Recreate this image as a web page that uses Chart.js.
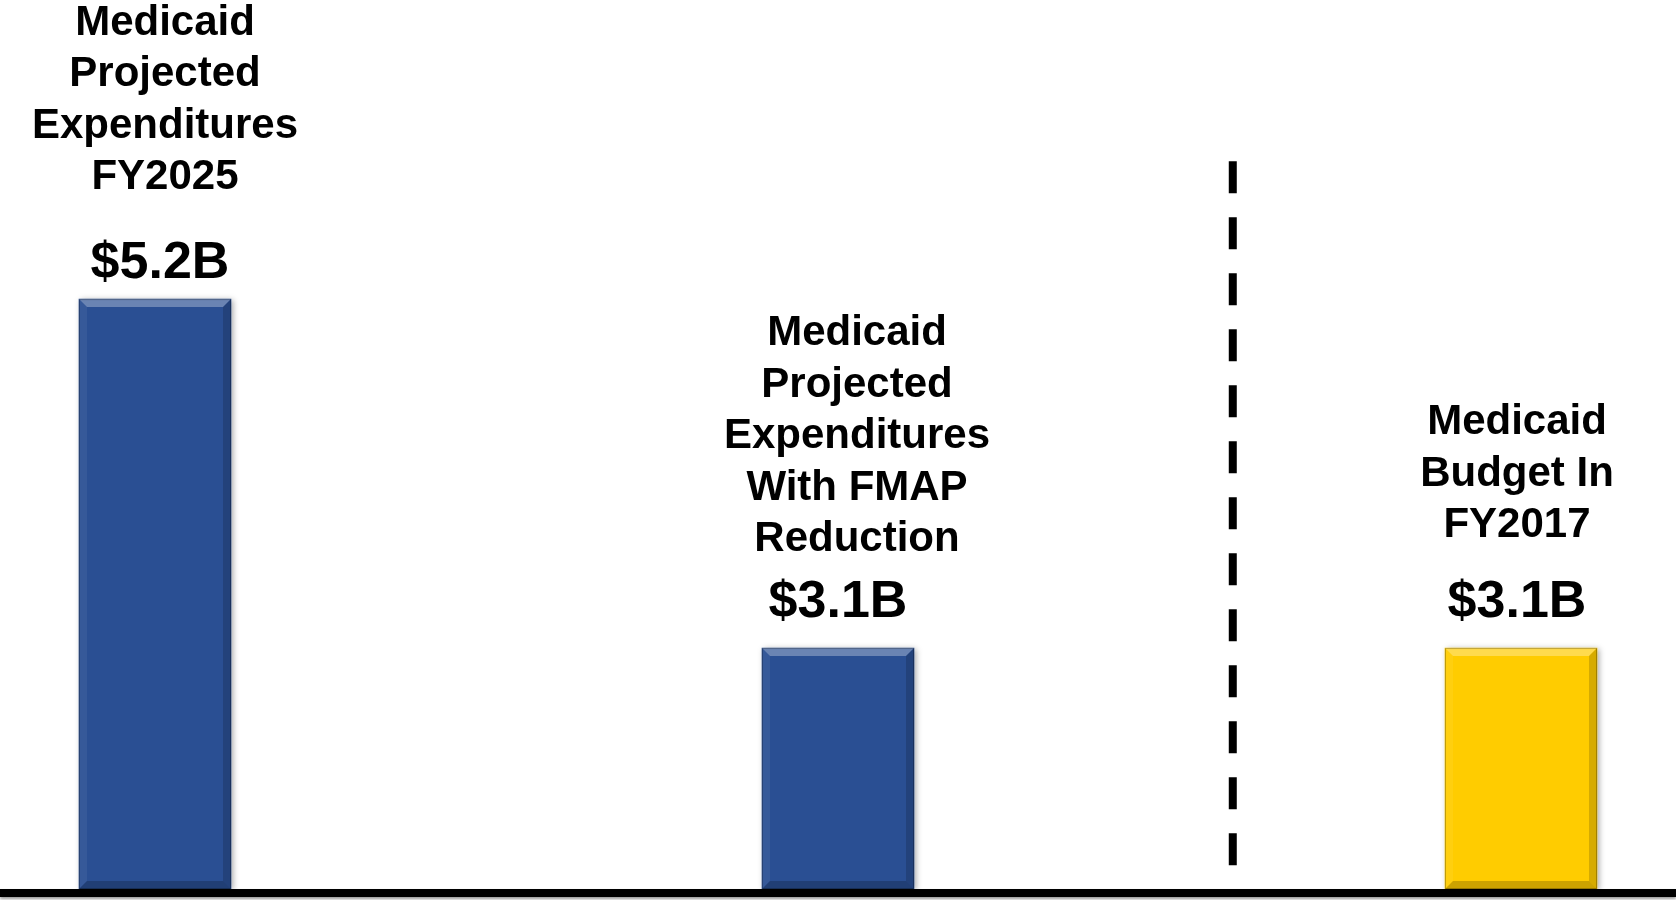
<!DOCTYPE html>
<html>
<head>
<meta charset="utf-8">
<script src="https://cdn.jsdelivr.net/npm/chart.js@4"></script>
<style>
  body { margin: 0; background: #fff; }
  #wrap { width: 1676px; height: 900px; }
</style>
</head>
<body>
<div id="wrap"><canvas id="myChart" width="1676" height="900"></canvas></div>
<script>
// dados
const categories = [
  ['Medicaid', 'Projected', 'Expenditures', 'FY2025'],
  ['Medicaid', 'Projected', 'Expenditures', 'With FMAP', 'Reduction'],
  ['Medicaid', 'Budget In', 'FY2017']
];
const values = [5.2, 3.1, 3.1];              // bilhoes de dolares
const valueLabels = ['$5.2B', '$3.1B', '$3.1B'];
const barColors = ['#2a4f93', '#2a4f93', '#ffcc00'];

// eixo y truncado (o grafico original nao comeca em zero)
const yMin = 1.65;
const yMax = 7.0;

// linha tracejada entre a 2a e a 3a barra
const dividerAt = 1.578;   // posicao na escala de categorias
const dividerTop = 6.03;   // topo da linha na escala y

const ctx = document.getElementById('myChart');

// rotulos, bisel, linha de base e divisoria
const decor = {
  id: 'decor',
  beforeDatasetsDraw(chart) {
    const c = chart.ctx;
    const meta = chart.getDatasetMeta(0);
    c.save();
    meta.data.forEach(bar => {
      const w = bar.width;
      c.shadowColor = 'rgba(0,0,0,0.35)';
      c.shadowBlur = 6;
      c.shadowOffsetX = 2;
      c.shadowOffsetY = 1;
      c.fillStyle = '#ffffff';
      c.fillRect(bar.x - w / 2, bar.y, w, bar.base - bar.y);
    });
    c.restore();
  },
  afterDatasetsDraw(chart) {
    const c = chart.ctx;
    const meta = chart.getDatasetMeta(0);
    const x = chart.scales.x, y = chart.scales.y;
    const area = chart.chartArea;

    // bisel das barras
    const d = 8;
    meta.data.forEach(bar => {
      const l = bar.x - bar.width / 2, r = bar.x + bar.width / 2;
      const t = bar.y, b = bar.base;
      const poly = (pts, col) => {
        c.beginPath();
        c.moveTo(pts[0][0], pts[0][1]);
        for (let i = 1; i < pts.length; i++) c.lineTo(pts[i][0], pts[i][1]);
        c.closePath();
        c.fillStyle = col;
        c.fill();
      };
      poly([[l, t], [r, t], [r - d, t + d], [l + d, t + d]], 'rgba(255,255,255,0.3)');
      poly([[l, t], [l + d, t + d], [l + d, b - d], [l, b]], 'rgba(255,255,255,0.06)');
      poly([[r, t], [r - d, t + d], [r - d, b - d], [r, b]], 'rgba(0,0,0,0.16)');
      poly([[l, b], [l + d, b - d], [r - d, b - d], [r, b]], 'rgba(0,0,0,0.2)');
      c.strokeStyle = 'rgba(0,0,0,0.25)';
      c.lineWidth = 1;
      c.strokeRect(l + 0.5, t + 0.5, bar.width - 1, b - t - 1);
    });

    // textos
    const valueGap = [21, 31, 31];
    const titleGap = [89, 66, 80];
    const titleShift = [10, 19, -4];
    const valueShift = [5, 0, -4];
    const lh = 51.5;
    c.save();
    c.fillStyle = '#000';
    c.textAlign = 'center';
    c.textBaseline = 'alphabetic';
    meta.data.forEach((bar, i) => {
      const vy = bar.y - valueGap[i];
      c.font = 'bold 52px "Liberation Sans", Arial, sans-serif';
      c.fillText(valueLabels[i], bar.x + valueShift[i], vy);
      c.font = 'bold 42px "Liberation Sans", Arial, sans-serif';
      const lines = categories[i];
      const lastY = vy - titleGap[i];
      lines.forEach((ln, k) => {
        c.fillText(ln, bar.x + titleShift[i], lastY - (lines.length - 1 - k) * lh);
      });
    });
    c.restore();

    // linha divisoria tracejada
    c.save();
    const dx = x.getPixelForValue(dividerAt);
    c.strokeStyle = '#000';
    c.lineWidth = 8;
    c.setLineDash([32, 24]);
    c.beginPath();
    c.moveTo(dx, y.getPixelForValue(dividerTop));
    c.lineTo(dx, area.bottom);
    c.stroke();
    c.restore();

    // linha de base
    c.save();
    c.shadowColor = 'rgba(0,0,0,0.4)';
    c.shadowBlur = 3;
    c.shadowOffsetY = 2;
    c.fillStyle = '#000';
    c.fillRect(0, area.bottom, chart.width, 8);
    c.restore();
  }
};

new Chart(ctx, {
  type: 'bar',
  data: {
    labels: categories,
    datasets: [{
      data: values,
      base: yMin,
      backgroundColor: barColors,
      barThickness: 152,
      clip: false
    }]
  },
  options: {
    responsive: false,
    animation: false,
    layout: { padding: { left: 155, right: 155, top: 0, bottom: 11 } },
    plugins: {
      legend: { display: false },
      tooltip: { enabled: false }
    },
    scales: {
      x: { display: false, offset: false, grid: { display: false } },
      y: { display: false, min: yMin, max: yMax, grid: { display: false } }
    }
  },
  plugins: [decor]
});
</script>
</body>
</html>
